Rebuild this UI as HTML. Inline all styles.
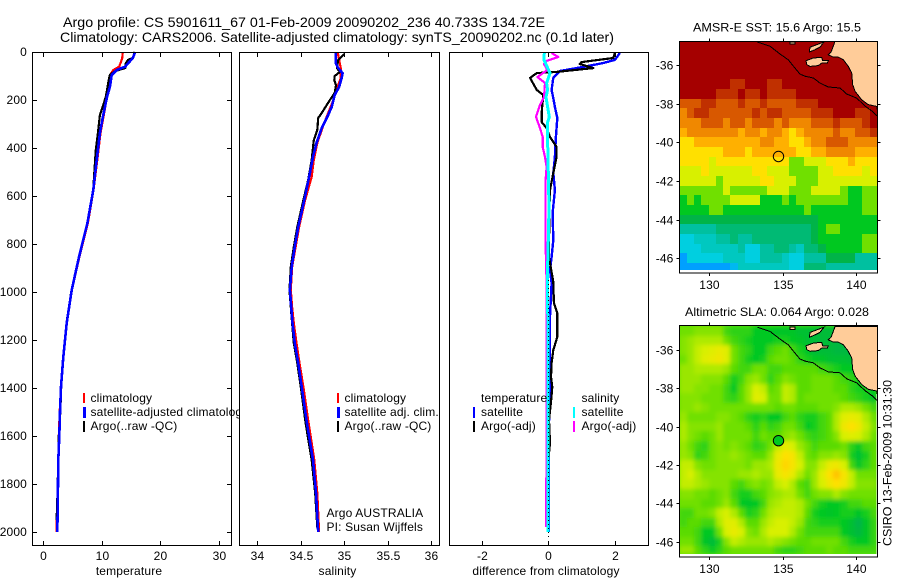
<!DOCTYPE html>
<html>
<head>
<meta charset="utf-8">
<title>Argo profile CS 5901611_67</title>
<style>
html,body{margin:0;padding:0;background:#fff;}
svg{display:block;}
text{font-family:"Liberation Sans",sans-serif;font-size:12px;fill:#000;letter-spacing:0.15px;}
.t14{font-size:14px;letter-spacing:0;}
.fit{letter-spacing:0;}
</style>
</head>
<body>
<svg id="fig" xmlns="http://www.w3.org/2000/svg" width="900" height="580" viewBox="0 0 900 580">
<rect x="0" y="0" width="900" height="580" fill="#fff"/>
<text class="t14" x="63" y="27" textLength="482" lengthAdjust="spacingAndGlyphs">Argo profile: CS 5901611_67 01-Feb-2009 20090202_236 40.733S 134.72E</text>
<text class="t14" x="60" y="42" textLength="554" lengthAdjust="spacingAndGlyphs">Climatology: CARS2006. Satellite-adjusted climatology: synTS_20090202.nc (0.1d later)</text>

<g>
<rect x="32.5" y="52.5" width="199" height="493" fill="#fff" stroke="none"/>
<g id="temp-marks"></g>
<rect x="32.5" y="52.5" width="199" height="493" fill="none" stroke="#000" stroke-width="1" shape-rendering="crispEdges"/>
<g id="temp-ticks"></g>
<text x="129" y="575" text-anchor="middle">temperature</text>
<g shape-rendering="crispEdges">
<rect x="83" y="393" width="2" height="10" fill="#f00"/>
<rect x="83" y="407" width="3" height="11" fill="#00f"/>
<rect x="83" y="421" width="2" height="11" fill="#000"/>
</g>
<text x="90.5" y="402">climatology</text>
<text x="90.5" y="416">satellite-adjusted climatology</text>
<text x="90.5" y="430">Argo(..raw -QC)</text>
</g>

<g>
<rect x="239.5" y="52.5" width="200" height="493" fill="#fff"/>
<g id="sal-marks"></g>
<rect x="239.5" y="52.5" width="200" height="493" fill="none" stroke="#000" stroke-width="1" shape-rendering="crispEdges"/>
<g id="sal-ticks"></g>
<text x="337.5" y="575" text-anchor="middle">salinity</text>
<g shape-rendering="crispEdges">
<rect x="337" y="393" width="2" height="10" fill="#f00"/>
<rect x="337" y="407" width="3" height="11" fill="#00f"/>
<rect x="337" y="421" width="2" height="11" fill="#000"/>
</g>
<text x="344.5" y="402">climatology</text>
<text x="344.5" y="416">satellite adj. clim.</text>
<text x="344.5" y="430">Argo(..raw -QC)</text>
<text x="326.5" y="517">Argo AUSTRALIA</text>
<text x="326.5" y="531">PI: Susan Wijffels</text>
</g>

<g>
<rect x="449.5" y="52.5" width="199" height="493" fill="#fff"/>
<g id="diff-marks"></g>
<rect x="449.5" y="52.5" width="199" height="493" fill="none" stroke="#000" stroke-width="1" shape-rendering="crispEdges"/>
<g id="diff-ticks"></g>
<text x="546" y="575" text-anchor="middle">difference from climatology</text>
<g shape-rendering="crispEdges">
<rect x="473" y="407" width="2" height="11" fill="#00f"/>
<rect x="473" y="421" width="2" height="11" fill="#000"/>
<rect x="573" y="407" width="2" height="11" fill="#0ff"/>
<rect x="573" y="421" width="2" height="11" fill="#f0f"/>
</g>
<text x="481" y="402">temperature</text>
<text x="481" y="416">satellite</text>
<text x="481" y="430">Argo(-adj)</text>
<text x="581.5" y="402">salinity</text>
<text x="581.5" y="416">satellite</text>
<text x="581.5" y="430">Argo(-adj)</text>
</g>

<defs>
<filter id="sla-blur" x="-5%" y="-5%" width="110%" height="110%"><feGaussianBlur stdDeviation="2.2"/></filter>
<clipPath id="sla-clip"><rect x="680" y="326" width="196.5" height="228"/></clipPath>
</defs>

<text class="fit" x="693" y="31.5" textLength="168" lengthAdjust="spacingAndGlyphs">AMSR-E SST: 15.6 Argo: 15.5</text>
<g id="sst-map"></g>
<text class="fit" x="685" y="316" textLength="184" lengthAdjust="spacingAndGlyphs">Altimetric SLA: 0.064 Argo: 0.028</text>
<g id="sla-map"></g>
<text class="fit" transform="translate(891.5,546) rotate(-90)" textLength="166" lengthAdjust="spacingAndGlyphs">CSIRO 13-Feb-2009 10:31:30</text>
</svg>

<script>
// ---- profile data ----
const tempTicks = [0, 10, 20, 30];
const salTicks = [34, 34.5, 35, 35.5, 36];
const salTickLabels = ["34", "34.5", "35", "35.5", "36"];
const diffTicks = [-2, 0, 2];
const depthTicks = [0, 200, 400, 600, 800, 1000, 1200, 1400, 1600, 1800, 2000];

const tempDepths = [0,25,61,75,96,146,188,270,338,450,575,713,854,992,1129,1271,1396,1500,1600,1700,1800,1900,2000];
const tempClim = [13.6,13.5,13.0,12.0,11.4,11.2,10.9,10.3,9.8,9.25,8.6,7.65,6.2,4.9,4.0,3.45,3.05,2.85,2.7,2.6,2.6,2.4,2.3];
const tempSat = [15.7,15.3,14.0,12.55,11.7,11.4,10.9,10.2,9.7,9.15,8.57,7.57,6.13,4.89,4.03,3.46,3.07,2.9,2.78,2.61,2.56,2.5,2.44];
const tempArgoDepths = [0,25,33,47,67,79,96,117,188,262,338,408,575,713,854,992,1129,1271,1396,1500,1600,1700,1800,1900,1950];
const tempArgo = [15.6,15.3,14.5,14.1,14.0,12.3,11.4,11.2,10.7,9.7,9.35,9.0,8.55,7.55,6.1,4.85,4.0,3.45,3.1,2.95,2.7,2.6,2.5,2.4,2.3];

const salClimDepths = [4,67,108,158,200,304,379,450,520,617,729,813,896,992,1062,1129,1212,1296,1396,1546,1700,1838,2000];
const salClim = [34.925,34.96,34.96,34.91,34.875,34.76,34.69,34.65,34.625,34.55,34.48,34.44,34.40,34.385,34.40,34.42,34.45,34.485,34.53,34.59,34.655,34.69,34.71];
const salSatDepths = [4,46,67,88,108,146,179,229,271,317,379,437,504,617,729,813,896,992,1062,1129,1212,1296,1396,1546,1700,1838,2000];
const salSat = [34.90,34.90,34.93,34.98,34.97,34.94,34.89,34.855,34.805,34.74,34.68,34.64,34.605,34.54,34.47,34.43,34.395,34.375,34.39,34.405,34.43,34.47,34.51,34.57,34.64,34.675,34.70];
const salArgoDepths = [8,33,67,83,100,117,138,171,200,254,275,325,367,450,533,617,729,813,896,992,1062,1129,1212,1296,1396,1546,1700,1838,1980];
const salArgo = [35.0,34.93,34.915,34.95,34.89,34.885,34.905,34.89,34.835,34.74,34.70,34.69,34.65,34.625,34.585,34.53,34.46,34.42,34.385,34.37,34.385,34.40,34.42,34.46,34.50,34.555,34.625,34.665,34.69];

const diffTempSatDepths = [4,33,46,62,79,108,158,192,229,275,354,437,504,575,671,783,854,908,963,1100,1400,1500,1600,1900,2000];
const diffTempSat = [2.16,2.01,1.66,1.06,0.35,0.15,0.1,0.15,0.2,0.27,0.23,0.2,0.15,0.2,0.13,0.15,0.1,0.05,0.1,0.05,0.05,0.03,0.01,0.02,0.01];
const diffTempArgoDepths = [4,25,42,50,67,83,88,108,158,179,250,292,317,354,396,437,504,575,671,854,958,1046,1088,1187,1242,1296,1354,1396,1458,1533,1629,1700,1950];
const diffTempArgo = [2.01,1.96,1.0,0.95,1.36,0.25,-0.35,-0.55,-0.35,-0.15,-0.2,-0.2,-0.05,0.05,0.25,0.25,0.15,0.05,0.03,0.02,0.15,0.17,0.27,0.27,0.15,0.1,0.08,0.12,0.08,0.02,0.05,0.0,0.0];
const diffSalArgoDepths = [4,21,37,50,75,104,129,188,221,271,317,354,396,437,479,533,783,879,960,1979];
const diffSalArgo = [0.1,0.3,-0.05,-0.13,-0.03,-0.33,-0.1,-0.13,-0.25,-0.37,-0.25,-0.17,-0.17,-0.1,-0.05,-0.08,-0.08,-0.07,-0.05,-0.06];
const diffSalSatDepths = [4,33,88,129,158,188,271,296,367,504,646,783,896,1400,2000];
const diffSalSat = [-0.12,-0.13,0.05,-0.05,-0.02,-0.07,0.03,-0.03,-0.02,0,0.02,0,-0.02,-0.01,-0.01];

// ---- map data: 0.5-degree rows from north to south ----
const mapRowStart = 34.75;
const mapColStart = 127.94;
const sstRows = [
[18,18,18,18,18,18,18,18,18,18,18,18,18,18,18,18,18,18,18,18,18,18,18,18,18,18,18],
[18,18,18,18,18,18,18,18,18,18,18,18,18,18,18,18,18,18,18,18,18,18,18,18,18,18,18],
[18,18,18,18,18,18,18,18,18,18,18,18,18,18,18,18,18,18,18,18,18,18,18,18,18,18,18],
[18,18,18,18,18,18,18,18,18,18,18,18,18,18,18,18,18,18,18,18,18,18,18,18,18,18,18],
[18,18,18,18,18,18,18,17.5,17.5,18,18,18,17.5,17.5,18,18,18,18,18,18,18,18,18,18,18,18,18],
[18,18,18,18,18,17.5,17.5,17.5,18,17.5,17.5,18,17.5,17.5,17.5,17.5,18,18,18,18,18,18,18,18,18,18,18],
[17,17,17,17.5,17.5,17,17,17,17.5,17,17,17.5,17,17,17,17,17.5,17.5,17.5,18,18,18,18,18,18,18,18],
[16.5,17,17.5,17.5,17,17,17,17,17,17,17.5,17,17.5,17.5,17,17,17,17,17.5,17.5,17.5,18,18,18,17.5,17.5,18],
[16.5,16.5,16.5,17,17,17,16.5,17,17,16.5,17,17,17,16.5,17,16.5,16.5,16.5,17,17,17,17.5,17,17,17,17.5,18],
[16,16.5,16.5,16.5,16.5,16.5,16.5,16.5,16,16.5,16.5,16,16.5,16.5,16,15.5,16,16.5,16.5,16.5,16.5,17,16.5,16.5,17,17,17.5],
[15.5,15.5,16,16,16,16,16,16,16,16,16,16.5,16.5,16,16,15.5,15.5,16,16.5,16.5,17,17,17,16.5,16.5,16.5,16.5],
[15.5,15.5,15.5,15.5,15.5,15.5,16,16,16,15.5,16,16,16,16,16,16,15.5,15.5,16,16,16.5,16.5,16.5,16.5,16,16,16],
[15.5,15.5,15.5,15.5,15,15.5,15.5,15.5,15.5,15.5,15.5,15.5,15.5,15.5,15.5,14.5,14.5,15,15,15,15.5,15.5,15.5,16,15.5,15.5,15.5],
[15,15,15,15.5,15,15,15,15,15,15,15.5,15.5,15,15,15,14.5,14.5,14.5,14.5,15,15,15.5,15.5,15.5,15.5,15,15.5],
[15,15,15,15,15,14.5,15,15,15,15,15,15.5,15.5,15,15,15,14.5,14.5,14.5,15,15,15,15,15,15,15,15],
[14.5,14.5,14.5,14.5,14.5,14.5,15,14.5,14.5,14.5,14.5,14.5,15,15,15,14.5,14.5,14.5,15,15,15,15,14.5,14,14,14.5,14.5],
[14,14.5,14,14.5,14.5,14.5,14.5,15,15,15,15,14,14,14,14.5,14,14.5,14.5,14.5,14.5,14.5,14.5,14.5,14,14,14.5,14.5],
[14,14,14,14,14.5,14.5,14,14,14,14,14,14,14,14,14,14,14,14.5,14,14,14,14,14,14,14,14.5,14.5],
[13.5,13.5,13.5,13.5,13.5,13.5,13.5,13.5,13.5,13.5,13.5,13.5,13.5,13.5,13.5,13.5,13.5,13.5,13.5,14,14,14,14,14,14,14,14],
[13,13,13,13,13,13.25,13.25,13.25,13.25,13.25,13.25,13.25,13.25,13.25,13.25,13.25,13.25,13.25,13.5,14,14.5,14.5,14,14,14,14,14],
[12.5,12.5,12.75,12.75,12.75,13,13,13.25,13,13,13.25,13.25,13.25,13.25,13.25,13.25,13.25,13.25,13.5,14,14,14,14,14,14,14.5,14.5],
[12.5,12.5,12.5,12.75,12.75,12.75,12.75,12.75,13,12.5,12.5,13,13,13.25,13.25,13,12.75,13.25,13.25,13.5,14,14,14,14,14,14.5,14.5],
[12,12.5,12.5,12.5,12.5,12.5,12.75,12.75,12.75,12.5,12.5,13,13,13,12.75,12.5,12.5,13,13,13,13.5,13.5,13.5,13.5,13,13,13],
[12,12,12,12,12,12,12,12.25,12.75,12.75,12.75,12.75,12.75,12.75,12.75,12.5,12.5,13.25,13.25,13.25,13,13,13,13,13,13,13]
];
// sea level anomaly in cm
const slaRows = [
[5,5,6,6,6,6,3,2,2,2,0,0,0,-1,-1,-1,-2,-2,-3,-3,-3,-4,-4,-4,-4,-4,-4],
[6,7,8,8,8,8,5,3,2,1,0,0,0,1,1,0,-1,-2,-3,-3,-3,-4,-4,-4,-4,-4,-4],
[6,7,9,10,11,12,11,5,3,2,0,0,3,4,5,3,1,-1,-3,-3,-3,-4,-4,-4,-4,-4,-4],
[5,7,9,11,12,13,11,5,3,1,0,1,4,5,5,4,2,1,0,-1,-2,-2,-2,-3,-3,-3,-3],
[7,7,8,8,8,8,7,4,3,3,5,5,3,3,4,4,4,4,4,3,2,1,0,0,0,0,0],
[7,7,7,6,6,6,4,1,3,6,7,5,2,4,6,5,4,4,5,5,5,4,3,2,1,0,0],
[7,7,6,6,5,5,3,0,4,7,10,9,4,5,9,8,4,4,5,5,5,4,4,2,1,1,0],
[6,6,6,5,5,5,3,2,4,7,11,10,5,5,9,8,4,5,5,5,5,5,4,3,2,1,-1],
[6,6,7,6,5,5,5,5,5,5,5,5,5,4,5,5,4,4,4,5,5,6,8,8,7,5,3],
[7,5,5,5,5,6,6,5,4,2,1,2,0,0,3,4,2,1,1,3,4,8,11,12,11,8,5],
[8,6,6,6,6,7,5,5,5,4,2,4,2,3,5,5,3,0,1,3,4,8,13,15,13,9,6],
[8,6,5,4,5,7,5,5,5,5,3,5,4,4,6,7,5,3,2,3,4,6,10,11,10,8,5],
[7,5,3,2,5,6,5,6,5,4,2,3,5,9,12,10,7,5,3,4,4,4,5,2,0,3,4],
[7,6,2,3,5,6,6,7,6,5,4,4,7,12,15,14,9,5,4,6,6,7,6,1,-2,1,4],
[9,9,6,5,5,6,6,6,6,5,7,7,8,13,16,14,10,6,6,9,12,13,10,3,-1,2,4],
[9,10,8,6,6,6,6,6,7,7,8,7,7,12,14,12,8,5,7,11,15,18,14,9,5,5,5],
[9,9,8,7,6,6,6,4,3,5,6,5,6,9,10,8,4,3,7,10,13,15,13,9,6,6,6],
[6,6,5,5,4,5,6,3,1,1,3,4,6,7,8,8,5,3,5,6,6,8,6,5,5,5,5],
[5,5,5,4,4,5,7,4,0,-1,0,3,7,8,9,9,8,5,3,1,0,0,1,3,3,4,4],
[3,3,5,5,6,9,10,8,4,1,2,5,8,9,9,9,8,4,1,0,-1,0,1,1,-1,1,3],
[3,4,4,3,3,8,11,11,8,4,4,7,9,10,10,9,7,3,2,1,1,1,0,-2,-5,-1,2],
[4,4,3,0,0,5,10,12,10,6,5,8,10,10,10,8,5,3,3,3,3,3,0,-2,-4,-1,2],
[5,5,3,-1,-3,1,6,9,8,7,7,7,8,7,6,5,4,4,5,5,5,5,3,1,0,0,2],
[7,7,4,2,0,2,4,5,5,5,5,5,5,3,2,2,3,4,4,4,5,4,4,3,3,3,3]
];
const mapLonTicks = [130, 135, 140];
const mapLatTicks = [36, 38, 40, 42, 44, 46];
const floatLon = 134.72;
const floatLat = 40.733;
// coastline [lon, lat]
const mainlandLons = [138.58,138.46,138.31,138.12,138.46,138.80,139.15,139.49,139.72,139.79,139.95,140.40,140.85,141.43,141.47,141.47];
const mainlandLats = [34.78,35.03,35.33,35.47,35.59,35.59,35.73,36.07,36.41,37.02,37.36,37.80,38.05,38.14,38.31,34.78];
const yorkeLons = [137.83,136.87,136.83,137.21,137.55,137.83];
const yorkeLats = [34.81,35.08,35.33,35.21,35.08,34.81];
const kangarooLons = [136.6,137.1,137.67,137.74,138.12,138.05,137.67,137.44,136.87,136.65];
const kangarooLats = [35.78,35.64,35.6,35.78,35.78,35.9,35.9,36.03,36.07,35.98];
const isletLons = [135.5,135.85,135.85,135.5];
const isletLats = [34.81,34.81,34.92,34.92];
const shelfLons = [133.27,134.14,134.82,135.39,135.85,136.19,136.53,137.1,137.55,138.12,138.92,139.38,140.06,140.63,141.1,141.44];
const shelfLats = [34.81,35.03,35.43,35.73,36.16,36.47,36.58,36.67,36.93,37.14,37.19,37.5,37.71,38.12,38.38,38.64];

// ---- helpers ----
const NS = "http://www.w3.org/2000/svg";
const yDepth = d => 52 + 0.24 * d;
const xTemp = t => 43 + 5.87 * t;
const xSal = s => 257.3 + 87 * (s - 34);
const xDiff = v => 548.3 + 33.15 * v;

function node(tag, parent) {
  const el = document.createElementNS(NS, tag);
  parent.appendChild(el);
  return el;
}
function drawLine(parent, xs, depths, xf, colour, width, name) {
  const el = node("path", parent);
  
  
  el.setAttribute("d", xs.map((v, i) => (i ? "L" : "M") + xf(v).toFixed(1) + " " + yDepth(depths[i]).toFixed(1)).join(""));
  el.setAttribute("fill", "none");
  el.setAttribute("stroke", colour);
  el.setAttribute("stroke-width", width);
  el.setAttribute("stroke-linejoin", "round");
  el.setAttribute("shape-rendering", "crispEdges");
}
function tickLine(parent, x1, y1, x2, y2) {
  const el = node("line", parent);
  
  
  el.setAttribute("x1", x1);
  el.setAttribute("y1", y1);
  el.setAttribute("x2", x2);
  el.setAttribute("y2", y2);
  el.setAttribute("stroke", "#000");
  el.setAttribute("shape-rendering", "crispEdges");
}
function tickText(parent, x, y, str, anchor) {
  const el = node("text", parent);
  
  
  el.setAttribute("x", x);
  el.setAttribute("y", y);
  el.setAttribute("text-anchor", anchor);
  el.textContent = str;
}
function xAxis(id, ticks, labels, xf) {
  const g = document.getElementById(id);
  ticks.forEach((v, i) => {
    const x = Math.round(xf(v)) + 0.5;
    tickLine(g, x, 52.5, x, 57);
    tickLine(g, x, 541, x, 545.5);
    tickText(g, x, 560, labels[i], "middle");
  });
}

// ---- profile panels ----
const tempG = document.getElementById("temp-marks");
drawLine(tempG, tempClim, tempDepths, xTemp, "#f00", 2.2, "temperature-climatology-line");
drawLine(tempG, tempArgo, tempArgoDepths, xTemp, "#000", 2.2, "temperature-argo-line");
drawLine(tempG, tempSat, tempDepths, xTemp, "#00f", 2.6, "temperature-satellite-line");
xAxis("temp-ticks", tempTicks, tempTicks.map(String), xTemp);
const tempAxis = document.getElementById("temp-ticks");
depthTicks.forEach(d => {
  const y = Math.floor(yDepth(d)) + 0.5;
  tickLine(tempAxis, 32.5, y, 37, y);
  tickLine(tempAxis, 227, y, 231.5, y);
  tickText(tempAxis, 27, yDepth(d) + 4.2, String(d), "end");
});

const salG = document.getElementById("sal-marks");
drawLine(salG, salClim, salClimDepths, xSal, "#f00", 2.2, "salinity-climatology-line");
drawLine(salG, salArgo, salArgoDepths, xSal, "#000", 2.2, "salinity-argo-line");
drawLine(salG, salSat, salSatDepths, xSal, "#00f", 2.6, "salinity-satellite-line");
xAxis("sal-ticks", salTicks, salTickLabels, xSal);

const diffG = document.getElementById("diff-marks");
drawLine(diffG, diffTempSat, diffTempSatDepths, xDiff, "#00f", 2.4, "difference-temperature-satellite-line");
drawLine(diffG, diffTempArgo, diffTempArgoDepths, xDiff, "#000", 2.2, "difference-temperature-argo-line");
drawLine(diffG, diffSalArgo, diffSalArgoDepths, xDiff, "#f0f", 2.2, "difference-salinity-argo-line");
drawLine(diffG, diffSalSat, diffSalSatDepths, xDiff, "#0ff", 3, "difference-salinity-satellite-line");
const zeroLine = node("line", diffG);


zeroLine.setAttribute("x1", 548.5);
zeroLine.setAttribute("x2", 548.5);
zeroLine.setAttribute("y1", 280);
zeroLine.setAttribute("y2", 540);
zeroLine.setAttribute("stroke", "#000");
zeroLine.setAttribute("stroke-dasharray", "1 3");
zeroLine.setAttribute("shape-rendering", "crispEdges");
xAxis("diff-ticks", diffTicks, diffTicks.map(String), xDiff);

// ---- colour ramp ----
const rampColours = [[0,160,255],[0,207,224],[0,192,160],[0,180,72],[0,200,32],[112,224,0],[216,240,0],[255,224,0],[255,176,0],[240,136,0],[216,88,0],[192,48,0],[165,0,0]];
function ramp(t) {
  const p = Math.max(0, Math.min(12, (t - 12) * 2));
  const i = Math.min(11, Math.floor(p));
  const f = p - i;
  const a = rampColours[i];
  const b = rampColours[i + 1];
  return "rgb(" + a.map((c, k) => Math.round(c + (b[k] - c) * f)).join(",") + ")";
}

// ---- maps ----
function drawMap(id, rows, colourOf, top, lat36y, latScale, bottomImg, cellName, circleFill, smooth) {
  const g = document.getElementById(id);
  const xLon = lon => 709.4 + (lon - 130) * 14.64;
  const yLat = lat => lat36y + (lat - 36) * latScale;
  const left = 679.5;
  const right = 877.5;
  const bottom = top + 231.5;
  let cellParent = g;
  if (smooth) {
    const clipped = node("g", g);
    
    
    clipped.setAttribute("clip-path", "url(#sla-clip)");
    const backing = node("rect", clipped);
    
    
    backing.setAttribute("x", 680);
    backing.setAttribute("y", 326);
    backing.setAttribute("width", 197);
    backing.setAttribute("height", 228);
    backing.setAttribute("fill", "#5fe000");
    cellParent = node("g", clipped);
    
    
    cellParent.setAttribute("filter", "url(#sla-blur)");
  }
  rows.forEach((row, r) => {
    row.forEach((v, c) => {
      const x0 = xLon(mapColStart + c * 0.5);
      const x1 = xLon(mapColStart + (c + 1) * 0.5);
      const y0 = yLat(mapRowStart + r * 0.5);
      const y1 = Math.min(yLat(mapRowStart + (r + 1) * 0.5), bottomImg);
      const cell = node("rect", cellParent);
      
      
      cell.setAttribute("x", Math.round(x0));
      cell.setAttribute("y", Math.round(y0));
      cell.setAttribute("width", Math.round(Math.min(x1, 876.5)) - Math.round(x0));
      cell.setAttribute("height", Math.round(y1) - Math.round(y0));
      cell.setAttribute("fill", colourOf(v));
      cell.setAttribute("shape-rendering", "crispEdges");
    });
  });
  const pts = (lons, lats) => lons.map((l, i) => xLon(l).toFixed(1) + "," + yLat(lats[i]).toFixed(1)).join(" ");
  [[mainlandLons, mainlandLats, "mainland"], [yorkeLons, yorkeLats, "yorke-peninsula"], [kangarooLons, kangarooLats, "kangaroo-island"], [isletLons, isletLats, "islet"]].forEach(item => {
    const land = node("polygon", g);
    
    
    land.setAttribute("points", pts(item[0], item[1]));
    land.setAttribute("fill", "#ffcc99");
    land.setAttribute("stroke", "#000");
    land.setAttribute("stroke-width", "1");
    land.setAttribute("shape-rendering", "crispEdges");
  });
  const shelf = node("polyline", g);
  
  
  shelf.setAttribute("points", pts(shelfLons, shelfLats));
  shelf.setAttribute("fill", "none");
  shelf.setAttribute("stroke", "#000");
  shelf.setAttribute("shape-rendering", "crispEdges");
  const frame = node("rect", g);
  
  
  frame.setAttribute("x", left);
  frame.setAttribute("y", top);
  frame.setAttribute("width", right - left);
  frame.setAttribute("height", bottom - top);
  frame.setAttribute("fill", "none");
  frame.setAttribute("stroke", "#000");
  frame.setAttribute("shape-rendering", "crispEdges");
  mapLonTicks.forEach(lon => {
    const x = Math.round(xLon(lon)) + 0.5;
    tickLine(g, x, top - 3, x, top);
    tickLine(g, x, bottom, x, bottom + 3);
    tickText(g, x, bottom + 16, String(lon), "middle");
  });
  mapLatTicks.forEach(lat => {
    const y = Math.round(yLat(lat)) + 0.5;
    tickLine(g, left - 3, y, left, y);
    tickLine(g, right, y, right + 3, y);
    tickText(g, left - 6, y + 4, "-" + lat, "end");
  });
  const dot = node("circle", g);
  
  
  dot.setAttribute("cx", xLon(floatLon));
  dot.setAttribute("cy", yLat(floatLat));
  dot.setAttribute("r", 5.2);
  dot.setAttribute("fill", circleFill);
  dot.setAttribute("stroke", "#000");
}
drawMap("sst-map", sstRows, v => ramp(v), 41.5, 65, 19.33, 269.7, "sst-cell", "none", false);
drawMap("sla-map", slaRows, v => ramp(14 + v / 10), 325.5, 350, 19.17, 553.7, "sla-cell", "#00c820", true);
</script>
</body>
</html>
